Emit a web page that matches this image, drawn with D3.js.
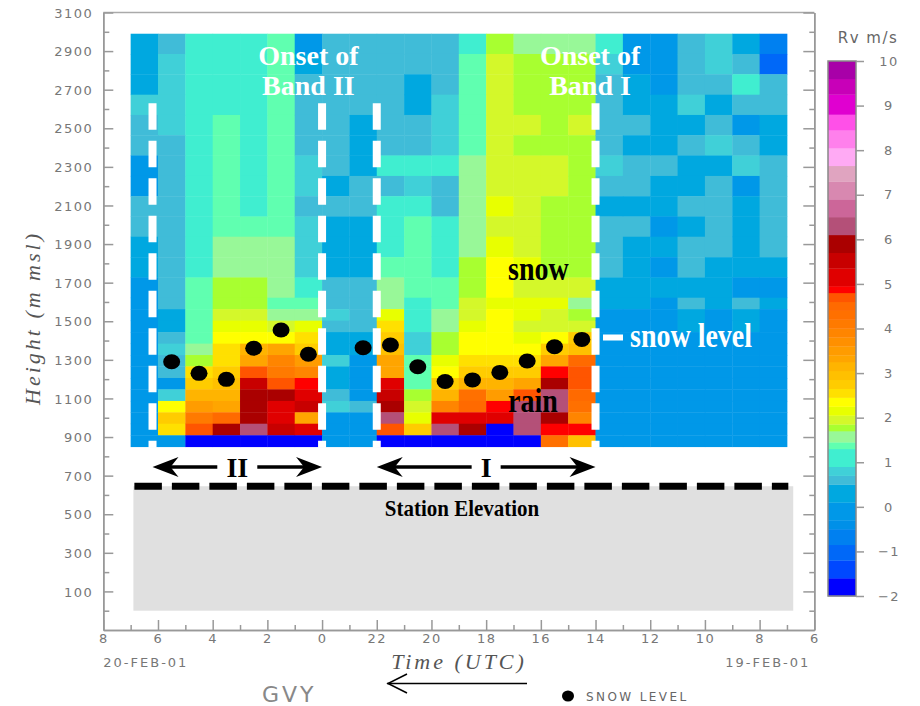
<!DOCTYPE html>
<html lang="en">
<head>
<meta charset="UTF-8" />
<title>GVY radial velocity and snow level</title>
<script src="https://cdn.jsdelivr.net/npm/d3@7"></script>
<style>
  body { margin: 0; background: #fff; }
  svg { display: block; }
  .axis path, .axis line { stroke: #999; stroke-width: 1.5; }
  .axis text { font-family: "DejaVu Sans", sans-serif; font-size: 13px; fill: #777; letter-spacing: 1.5px; }
</style>
</head>
<body>
<div id="chart"></div>
<script>
// time = hours after 06 UTC 19-FEB-01, the axis runs backwards (latest time on the left)
const hourCentres = [24.5, 23.5, 22.5, 21.5, 20.5, 19.5, 18.5, 17.5, 16.5, 15.5, 14.5, 13.5,
                     12.5, 11.5, 10.5, 9.5, 8.5, 7.5, 6.5, 5.5, 4.5, 3.5, 2.5, 1.5];

// range gate edges (m msl), top to bottom: high mode above ~1620 m, low mode below
const gateEdges = [2990, 2885, 2780, 2674, 2569, 2464, 2359, 2253, 2148, 2043, 1938, 1832, 1727,
                   1622, 1563, 1503, 1444, 1384, 1325, 1266, 1206, 1147, 1087, 1028, 969, 909, 850];

// radial velocity Rv (m/s), one list per hour column, gates top to bottom
const rv = [
  [0.3,0.3,0.3,0.8,0.6,0.6,0,0,0.6,0.6,0.3,0.3,0,0,0,0,0,0,0,0,0,0,0,0,0,0],
  [0.6,0.8,0.8,0.8,0.8,0.6,0.6,0.6,0.6,0.6,0.6,0.6,0.6,0.6,0.3,0.3,0.6,0.8,0.6,0.6,0,0.8,2.35,2.75,2.55,0],
  [1.1,1.1,1.1,1.1,1.1,1.1,1.1,1.1,1.1,1.1,1.1,1.1,1.4,1.4,1.4,1.4,1.4,1.6,1.8,2.55,2.75,3.15,3.5,4.1,4.7,-1.8],
  [1.1,1.1,1.1,1.1,1.4,1.4,1.4,1.4,1.4,1.4,1.6,1.6,1.8,1.8,1.95,2.15,2.35,2.55,2.55,2.75,2.95,3.15,3.3,4.5,5.9,-1.8],
  [1.1,1.1,1.1,1.1,1.1,1.1,1.1,1.1,1.1,1.4,1.6,1.6,1.8,1.8,1.95,2.15,2.35,3.15,3.3,4.7,5.5,5.9,5.9,5.9,6.3,-1.8],
  [1.4,1.4,1.4,1.4,1.4,1.4,1.4,1.4,1.4,1.4,1.6,1.6,1.6,1.4,1.6,1.95,2.35,3.3,3.9,4.1,4.7,5.9,5.1,5.1,5.5,-1.8],
  [0,0.3,0.6,0.6,0.6,0.6,0.8,0.8,0.6,0.8,0.8,0.8,1.1,1.4,1.6,2.15,2.55,2.75,3.5,3.9,4.9,5.1,5.5,3.3,5.1,-1.8],
  [0.6,0.6,0.6,0.6,0.6,0.6,0.6,0.3,0.6,0.3,0.3,0.3,0.6,0.6,0.8,0.6,0.3,0.3,0.8,0.3,0.3,0.6,0.8,0,0,0],
  [0.6,0.6,0.6,0.6,0.3,0.3,0.3,0.6,0.6,0.3,0.3,0.3,0.6,0.6,0.6,0.6,0.3,0.3,0,0,0,0,0.6,0,0,0],
  [0.6,0.6,0.6,0.6,0.6,0.6,1.1,0.6,1.1,1.1,1.1,1.4,1.6,1.6,2.15,2.55,2.75,2.95,3.3,3.3,5.1,5.5,5.9,6.3,4.7,-1.8],
  [0.6,0.6,0.3,0.3,0.6,0.6,1.1,0.8,1.1,1.4,1.4,1.4,1.4,1.1,1.1,1.1,0.8,0.8,1.4,1.4,1.4,1.8,1.95,2.15,2.75,-1.8],
  [0.6,0.6,0.6,0.8,0.8,0.8,1.1,0.6,0.6,1.1,1.1,1.1,1.4,1.4,1.6,1.6,1.8,1.8,2.15,2.35,2.75,3.15,3.9,5.1,6.3,-1.8],
  [1.1,1.4,1.4,1.4,1.4,1.4,1.6,1.6,1.6,1.6,1.6,1.8,1.8,1.95,1.95,2.15,2.35,2.35,2.55,2.75,3.15,4.3,4.5,5.1,5.9,-1.8],
  [1.8,1.95,1.95,1.95,1.95,1.95,1.95,1.95,2.15,1.95,2.15,2.35,2.35,2.15,2.35,2.35,2.35,2.35,2.55,2.75,3.15,3.5,4.9,5.1,-1.8,-1.8],
  [1.6,1.8,1.8,1.8,1.95,1.8,1.95,1.95,1.95,1.95,1.95,2.15,1.95,2.15,2.15,1.95,2.15,2.35,2.55,2.75,3.3,4.7,6.3,6.3,6.3,-1.8],
  [1.6,1.8,1.8,1.8,1.8,1.8,1.95,1.95,1.8,1.8,1.8,1.8,1.95,2.15,1.95,1.95,2.35,2.75,3.3,4.9,5.9,6.3,6.3,5.9,4.9,4.3],
  [1.6,1.8,1.8,1.8,1.95,1.8,1.8,1.8,1.8,1.8,1.8,1.8,1.95,1.6,1.8,1.95,2.75,2.95,4.5,4.7,4.7,4.5,4.3,3.9,4.9,2.95],
  [1.1,0.8,0.6,0.6,0.6,0.6,0.8,0.6,0.3,0.6,0.6,0.6,0.3,0.3,0,0,0,0,0,0,0,0,0,0,0,0],
  [0,0,0.3,0.3,0.6,0.3,0.6,0.6,0.3,0.6,0.3,0.3,0.3,0.3,0,0,0,0,0,0,0,0,0,0,0,0],
  [0,0,0,0.3,0.3,0.3,0.6,0.3,0.3,0,0.3,0,0.3,0,0,0,0,0,0,0,0,0,0,0,0,0],
  [0.6,0.6,0.6,0.8,0.3,0.6,0.3,0.3,0.6,0.3,0.6,0.6,0.3,0.6,0.3,0.3,0,0,0,0,0,0,0,0,0,0],
  [0.8,0.8,0.6,0.3,0.6,0.8,0.3,0.6,0.6,0.6,0.6,0.3,0.3,0.3,0,0,0,0,0,0,0,0,0,0,0,0],
  [0.3,0.6,1.1,0.6,0,0.6,0.8,0,0.3,0.3,0.3,0.3,0,0.6,0.3,0.3,0,0,0,0,0,0,0,0,0,0],
  [-0.7,-1.0,0.6,0.6,0.3,0.3,0.6,0.6,0.6,0.6,0.6,0.3,0,0.3,0,0,0,0,0,0,0,0,0,0,0,0]
];

// snow level (m msl)
const snowHours = [23.5, 22.5, 21.5, 20.5, 19.5, 18.5, 16.5, 15.5, 14.5, 13.5, 12.5, 11.5, 10.5, 9.5, 8.5];
const snowLevel = [1290, 1230, 1199, 1360, 1455, 1329, 1363, 1377, 1264, 1188, 1196, 1235, 1294, 1368, 1406];

// rain band onsets (hours) : band II from 24.2 to 18, band I from 16 to 8
const bandNames = ["II", "I"];
const bandStart = [24.2, 16];
const bandEnd = [18, 8];
const onsetLabels = [["Onset of", "Band II"], ["Onset of", "Band I"]];
const onsetAt = [18.5, 8.2];

const stationElevation = 645;
const groundSpan = [24.9, 0.77];

// colour bar levels and colours
const cbLevels = [-2, -1.6, -1.2, -0.85, -0.5, -0.3, 0.1, 0.5, 0.7, 0.9, 1.3, 1.45, 1.7, 1.85, 2.05,
  2.25, 2.45, 2.65, 2.85, 3.05, 3.25, 3.4, 3.6, 3.8, 4.0, 4.2, 4.4, 4.6, 4.8, 4.95, 5.35, 5.7,
  6.1, 6.5, 6.9, 7.3, 7.65, 8.05, 8.45, 8.8, 9.25, 9.6, 10];
const cbColors = ["#0000ff", "#0048ff", "#0068f8", "#0080f0", "#0090e8", "#0098e8", "#00a8e0",
  "#40bcd8", "#40d0d8", "#40eed0", "#60ffb0", "#98f898", "#a8ff30", "#d4f82a", "#e8ff00",
  "#ffff00", "#ffe000", "#ffcc00", "#ffc000", "#ffb400", "#ffa500", "#ff9c00", "#ff9000",
  "#ff8500", "#ff7a00", "#ff7000", "#ff6a00", "#ff5500", "#ff0000", "#e00000", "#c80000",
  "#aa0000", "#b45078", "#cc6699", "#d888b0", "#e0a4c0", "#ffaaf4", "#ff80ec", "#ff50e8",
  "#e000d0", "#c800b8", "#a800a8"];
const cbTicks = [-2, -1, 0, 1, 2, 3, 4, 5, 6, 7, 8, 9, 10];

const heightTicks = [100, 300, 500, 700, 900, 1100, 1300, 1500, 1700, 1900, 2100, 2300, 2500, 2700, 2900, 3100];
const heightMinor = [0, 200, 400, 600, 800, 1000, 1200, 1400, 1600, 1800, 2000, 2200, 2400, 2600, 2800, 3000];
const hourTicks = [26, 24, 22, 20, 18, 16, 14, 12, 10, 8, 6, 4, 2, 0];
const hourTickLabels = ["8", "6", "4", "2", "0", "22", "20", "18", "16", "14", "12", "10", "8", "6"];
const hourMinor = [25, 23, 21, 19, 17, 15, 13, 11, 9, 7, 5, 3, 1];

const W = 920, H = 706;
const x = d3.scaleLinear().domain([26, 0]).range([103.3, 814.3]);
const y = d3.scaleLinear().domain([-100, 3100]).range([630, 12.5]);
const cb = d3.scaleLinear().domain([-2, 10]).range([596, 61]);
const colour = d3.scaleThreshold().domain(cbLevels.slice(1, -1)).range(cbColors);

const svg = d3.select("#chart").append("svg").attr("width", W).attr("height", H);

// heat map cells
const cells = [];
rv.forEach((col, i) => col.forEach((v, r) => cells.push({ h: hourCentres[i], r, v })));
svg.append("g").selectAll("rect")
  .data(cells)
  .join("rect")
  .attr("x", d => x(d.h + 0.5))
  .attr("y", d => y(gateEdges[d.r]))
  .attr("width", d => x(d.h - 0.5) - x(d.h + 0.5) + 0.4)
  .attr("height", d => y(gateEdges[d.r + 1]) - y(gateEdges[d.r]) + 0.4)
  .attr("fill", d => colour(d.v));

// ground below the station
svg.append("rect")
  .attr("x", x(groundSpan[0])).attr("width", x(groundSpan[1]) - x(groundSpan[0]))
  .attr("y", y(stationElevation)).attr("height", y(0) - y(stationElevation))
  .attr("fill", "#e0e0e0");
svg.append("line")
  .attr("x1", x(groundSpan[0]) + 1).attr("x2", x(0.95))
  .attr("y1", y(stationElevation)).attr("y2", y(stationElevation))
  .attr("stroke", "#000").attr("stroke-width", 7).attr("stroke-dasharray", "27.5,10");

// frame lines
svg.append("line").attr("x1", x(26)).attr("x2", x(0)).attr("y1", y(3100)).attr("y2", y(3100))
  .attr("stroke", "#aaa").attr("stroke-width", 1.5);

// axes
const left = svg.append("g").attr("class", "axis").attr("transform", `translate(${x(26)},0)`);
left.call(d3.axisLeft(y).tickValues(heightTicks).tickSize(-10).tickSizeOuter(0).tickPadding(10)
  .tickFormat(d3.format("d")));
left.call(g => g.selectAll(".tick text").attr("dy", "0.36em"));
svg.append("g").attr("class", "axis").attr("transform", `translate(${x(26)},0)`)
  .call(d3.axisLeft(y).tickValues(heightMinor).tickSize(-6).tickFormat("").tickSizeOuter(0));

svg.append("g").attr("class", "axis").attr("transform", `translate(${x(0)},0)`)
  .call(d3.axisRight(y).tickValues(heightTicks).tickSize(-11).tickFormat("").tickSizeOuter(0));
svg.append("g").attr("class", "axis").attr("transform", `translate(${x(0)},0)`)
  .call(d3.axisRight(y).tickValues(heightMinor).tickSize(-5).tickFormat("").tickSizeOuter(0));

svg.append("g").attr("class", "axis").attr("transform", `translate(0,${y(-100)})`)
  .call(d3.axisBottom(x).tickValues(hourTicks).tickSize(-10).tickSizeOuter(0).tickPadding(4)
    .tickFormat((d, i) => hourTickLabels[i]));
svg.append("g").attr("class", "axis").attr("transform", `translate(0,${y(-100)})`)
  .call(d3.axisBottom(x).tickValues(hourMinor).tickSize(-5).tickFormat("").tickSizeOuter(0));

// axis titles and dates
const sans = "'DejaVu Sans', sans-serif";
svg.append("text").attr("x", x(26)).attr("y", 667).text("20-FEB-01")
  .attr("font-family", sans).attr("font-size", 13).attr("fill", "#777").attr("letter-spacing", 2);
svg.append("text").attr("x", x(0) - 4).attr("y", 667).attr("text-anchor", "end").text("19-FEB-01")
  .attr("font-family", sans).attr("font-size", 13).attr("fill", "#777").attr("letter-spacing", 2);
svg.append("text").attr("x", 459).attr("y", 669).attr("text-anchor", "middle").text("Time (UTC)")
  .attr("font-family", "'Liberation Serif', serif").attr("font-style", "italic")
  .attr("font-size", 22).attr("fill", "#555").attr("letter-spacing", 3);
svg.append("text").attr("transform", "translate(40,318) rotate(-90)").attr("text-anchor", "middle")
  .text("Height (m msl)")
  .attr("font-family", "'Liberation Serif', serif").attr("font-style", "italic")
  .attr("font-size", 22).attr("fill", "#555").attr("letter-spacing", 3);
svg.append("text").attr("x", 262).attr("y", 702).text("GVY")
  .attr("font-family", sans).attr("font-size", 22).attr("fill", "#888").attr("letter-spacing", 3);

// time direction arrow
svg.append("line").attr("x1", 387).attr("x2", 527).attr("y1", 683.5).attr("y2", 683.5)
  .attr("stroke", "#000").attr("stroke-width", 1.5);
svg.append("path").attr("d", "M407,674 L388,683.5 L407,693").attr("fill", "none")
  .attr("stroke", "#000").attr("stroke-width", 1.5);

// legend for the dots
svg.append("ellipse").attr("cx", 568).attr("cy", 696).attr("rx", 6).attr("ry", 5.5).attr("fill", "#000");
svg.append("text").attr("x", 586).attr("y", 701).text("SNOW LEVEL")
  .attr("font-family", sans).attr("font-size", 12).attr("fill", "#666").attr("letter-spacing", 2.4);

// onset dashed lines
const onsets = bandStart.concat(bandEnd);
svg.append("g").selectAll("line")
  .data(onsets)
  .join("line")
  .attr("x1", d => x(d)).attr("x2", d => x(d))
  .attr("y1", y(2630)).attr("y2", y(850) + 1)
  .attr("stroke", "#fff").attr("stroke-width", 8).attr("stroke-dasharray", "26.5,11");

// snow level dots
svg.append("g").selectAll("ellipse")
  .data(snowHours)
  .join("ellipse")
  .attr("cx", d => x(d))
  .attr("cy", (d, i) => y(snowLevel[i]))
  .attr("rx", 8.5).attr("ry", 7.5)
  .attr("fill", "#000");

const serif = "'Liberation Serif', 'Times New Roman', serif";

// onset labels
onsetLabels.forEach((lines, i) => {
  const t = svg.append("text").attr("text-anchor", "middle").attr("font-family", serif)
    .attr("font-weight", "bold").attr("font-size", 28).attr("fill", "#fff");
  lines.forEach((s, k) => t.append("tspan").attr("x", x(onsetAt[i])).attr("y", 65 + k * 30).text(s));
});

// band arrows
const arrowY = 467;
bandNames.forEach((name, i) => {
  const a = x(bandStart[i]), b = x(bandEnd[i]), m = (a + b) / 2;
  const half = name.length * 5.5 + 9;
  svg.append("text").attr("x", m).attr("y", arrowY + 10).attr("text-anchor", "middle").text(name)
    .attr("font-family", serif).attr("font-weight", "bold").attr("font-size", 28).attr("fill", "#000");
  svg.append("line").attr("x1", a + 15).attr("x2", m - half).attr("y1", arrowY).attr("y2", arrowY)
    .attr("stroke", "#000").attr("stroke-width", 3.5);
  svg.append("line").attr("x1", m + half).attr("x2", b - 15).attr("y1", arrowY).attr("y2", arrowY)
    .attr("stroke", "#000").attr("stroke-width", 3.5);
  svg.append("path").attr("d", `M${a},${arrowY} L${a + 26},${arrowY - 10} L${a + 18},${arrowY} L${a + 26},${arrowY + 10} Z`);
  svg.append("path").attr("d", `M${b},${arrowY} L${b - 26},${arrowY - 10} L${b - 18},${arrowY} L${b - 26},${arrowY + 10} Z`);
});

// in-plot annotations (the original lettering is a little tall)
function tallText(tx, ty, s, fill, anchor) {
  svg.append("text").attr("transform", `translate(${tx},${ty}) scale(1,1.2)`)
    .attr("text-anchor", anchor || "start").text(s)
    .attr("font-family", serif).attr("font-weight", "bold").attr("font-size", 28).attr("fill", fill);
}
tallText(508, 280, "snow", "#000");
tallText(508, 412, "rain", "#000");
tallText(630, 347, "snow level", "#fff");
svg.append("rect").attr("x", 603).attr("y", 334.5).attr("width", 20).attr("height", 6).attr("fill", "#fff");
svg.append("text").attr("transform", "translate(462,516) scale(1,1.1)").attr("text-anchor", "middle")
  .text("Station Elevation")
  .attr("font-family", serif).attr("font-weight", "bold").attr("font-size", 21).attr("fill", "#000");

// colour bar
const cbX = 828, cbW = 28;
svg.append("g").selectAll("rect")
  .data(cbColors)
  .join("rect")
  .attr("x", cbX).attr("width", cbW)
  .attr("y", (d, i) => cb(cbLevels[i + 1]))
  .attr("height", (d, i) => cb(cbLevels[i]) - cb(cbLevels[i + 1]) + 0.3)
  .attr("fill", d => d);
svg.append("rect").attr("x", cbX).attr("y", cb(10)).attr("width", cbW).attr("height", cb(-2) - cb(10))
  .attr("fill", "none").attr("stroke", "#888").attr("stroke-width", 1.5);
const cbAxis = svg.append("g").attr("class", "axis").attr("transform", `translate(${cbX + cbW},0)`)
  .call(d3.axisRight(cb).tickValues(cbTicks).tickSize(8).tickSizeOuter(0).tickPadding(25));
cbAxis.select(".domain").remove();
cbAxis.selectAll(".tick text").attr("text-anchor", "middle").attr("font-size", 14).attr("letter-spacing", 0);
svg.append("text").attr("x", 868).attr("y", 43).attr("text-anchor", "middle").text("Rv m/s")
  .attr("font-family", sans).attr("font-size", 15).attr("fill", "#666").attr("letter-spacing", 1.5);
</script>
</body>
</html>
